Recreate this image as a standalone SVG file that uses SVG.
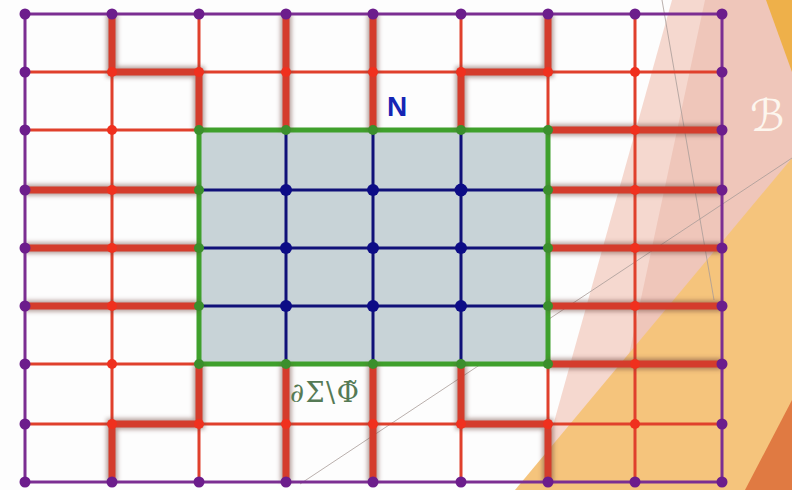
<svg xmlns="http://www.w3.org/2000/svg" width="792" height="490" viewBox="0 0 792 490">
<defs>
<style>
.p{fill:#6c1d8c}.r{fill:#f0301e}.g{fill:#3b8f2c}.b{fill:#0d0c86}
.rl{stroke:#e0402c;stroke-width:3;fill:none}
.bl{stroke:#101078;stroke-width:3;fill:none}
.gl{stroke:#3fa02c;stroke-width:5;fill:none}
.pl{stroke:#7b2e92;stroke-width:3;fill:none}
.tk{stroke:#d43c2c;stroke-width:7;fill:none;stroke-linejoin:miter}
.sh{stroke:#6a4038;stroke-width:11;fill:none;opacity:.5}
.thin{stroke:#a89c98;stroke-width:0.8;fill:none}
</style>
<filter id="blur" x="-10%" y="-10%" width="120%" height="120%"><feGaussianBlur stdDeviation="2"/></filter>
</defs>
<rect width="792" height="490" fill="#fdfdfd"/>
<g id="background">
<polygon points="672,0 792,0 792,490 535,490" fill="#f5d8cf"/>
<polygon points="705,0 792,0 792,490 600,490" fill="#efc6ba"/>
<polygon points="766,0 792,0 792,72" fill="#eeb04a"/>
<polygon points="792,158 792,490 515,490" fill="#f5c47c"/>
<polygon points="792,400 792,490 745,490" fill="#e07a42"/>
<line class="thin" x1="662" y1="0" x2="714" y2="300"/>
<line class="thin" x1="300" y1="484" x2="792" y2="158"/>
</g>
<g id="connectors">
<path class="rl" d="M25 72H722M25 130H722M25 190H722M25 248H722M25 306H722M25 364H722M25 424H722M112 14V482M199 14V482M286 14V482M373 14V482M461 14V482M548 14V482M635 14V482"/>
<rect x="199" y="130" width="349" height="234" fill="#c8d3d7"/>
<path class="bl" d="M199 190H548M199 248H548M199 306H548M286 130V364M373 130V364M461 130V364"/>
<rect class="gl" x="199" y="130" width="349" height="234"/>
<path class="sh" filter="url(#blur)" d="M112 14V72H199V130M286 14V130M373 14V130M461 130V72H548V14M548 130H722M548 190H722M548 248H722M548 306H722M548 364H722M25 190H199M25 248H199M25 306H199M199 364V424H112V482M286 364V482M373 364V482M461 364V424H548V482"/>
<path class="tk" d="M112 14V72H199V130M286 14V130M373 14V130M461 130V72H548V14M548 130H722M548 190H722M548 248H722M548 306H722M548 364H722M25 190H199M25 248H199M25 306H199M199 364V424H112V482M286 364V482M373 364V482M461 364V424H548V482"/>
<rect class="pl" x="25" y="14" width="697" height="468"/>
</g>
<g id="nodes">
<g id="n0_0"><circle class="p" cx="25" cy="14" r="5.5"/></g>
<g id="n0_1"><circle class="p" cx="112" cy="14" r="5.5"/></g>
<g id="n0_2"><circle class="p" cx="199" cy="14" r="5.5"/></g>
<g id="n0_3"><circle class="p" cx="286" cy="14" r="5.5"/></g>
<g id="n0_4"><circle class="p" cx="373" cy="14" r="5.5"/></g>
<g id="n0_5"><circle class="p" cx="461" cy="14" r="5.5"/></g>
<g id="n0_6"><circle class="p" cx="548" cy="14" r="5.5"/></g>
<g id="n0_7"><circle class="p" cx="635" cy="14" r="5.5"/></g>
<g id="n0_8"><circle class="p" cx="722" cy="14" r="5.5"/></g>
<g id="n1_0"><circle class="p" cx="25" cy="72" r="5.5"/></g>
<g id="n1_1"><circle class="r" cx="112" cy="72" r="5"/></g>
<g id="n1_2"><circle class="r" cx="199" cy="72" r="5"/></g>
<g id="n1_3"><circle class="r" cx="286" cy="72" r="5"/></g>
<g id="n1_4"><circle class="r" cx="373" cy="72" r="5"/></g>
<g id="n1_5"><circle class="r" cx="461" cy="72" r="5"/></g>
<g id="n1_6"><circle class="r" cx="548" cy="72" r="5"/></g>
<g id="n1_7"><circle class="r" cx="635" cy="72" r="5"/></g>
<g id="n1_8"><circle class="p" cx="722" cy="72" r="5.5"/></g>
<g id="n2_0"><circle class="p" cx="25" cy="130" r="5.5"/></g>
<g id="n2_1"><circle class="r" cx="112" cy="130" r="5"/></g>
<g id="n2_2"><circle class="g" cx="199" cy="130" r="5"/></g>
<g id="n2_3"><circle class="g" cx="286" cy="130" r="5"/></g>
<g id="n2_4"><circle class="g" cx="373" cy="130" r="5"/></g>
<g id="n2_5"><circle class="g" cx="461" cy="130" r="5"/></g>
<g id="n2_6"><circle class="g" cx="548" cy="130" r="5"/></g>
<g id="n2_7"><circle class="r" cx="635" cy="130" r="5"/></g>
<g id="n2_8"><circle class="p" cx="722" cy="130" r="5.5"/></g>
<g id="n3_0"><circle class="p" cx="25" cy="190" r="5.5"/></g>
<g id="n3_1"><circle class="r" cx="112" cy="190" r="5"/></g>
<g id="n3_2"><circle class="g" cx="199" cy="190" r="5"/></g>
<g id="n3_3"><circle class="b" cx="286" cy="190" r="6"/></g>
<g id="n3_4"><circle class="b" cx="373" cy="190" r="6"/></g>
<g id="n3_5"><circle class="b" cx="461" cy="190" r="6.5"/></g>
<g id="n3_6"><circle class="g" cx="548" cy="190" r="5"/></g>
<g id="n3_7"><circle class="r" cx="635" cy="190" r="5"/></g>
<g id="n3_8"><circle class="p" cx="722" cy="190" r="5.5"/></g>
<g id="n4_0"><circle class="p" cx="25" cy="248" r="5.5"/></g>
<g id="n4_1"><circle class="r" cx="112" cy="248" r="5"/></g>
<g id="n4_2"><circle class="g" cx="199" cy="248" r="5"/></g>
<g id="n4_3"><circle class="b" cx="286" cy="248" r="6"/></g>
<g id="n4_4"><circle class="b" cx="373" cy="248" r="6"/></g>
<g id="n4_5"><circle class="b" cx="461" cy="248" r="6"/></g>
<g id="n4_6"><circle class="g" cx="548" cy="248" r="5"/></g>
<g id="n4_7"><circle class="r" cx="635" cy="248" r="5"/></g>
<g id="n4_8"><circle class="p" cx="722" cy="248" r="5.5"/></g>
<g id="n5_0"><circle class="p" cx="25" cy="306" r="5.5"/></g>
<g id="n5_1"><circle class="r" cx="112" cy="306" r="5"/></g>
<g id="n5_2"><circle class="g" cx="199" cy="306" r="5"/></g>
<g id="n5_3"><circle class="b" cx="286" cy="306" r="6"/></g>
<g id="n5_4"><circle class="b" cx="373" cy="306" r="6"/></g>
<g id="n5_5"><circle class="b" cx="461" cy="306" r="6"/></g>
<g id="n5_6"><circle class="g" cx="548" cy="306" r="5"/></g>
<g id="n5_7"><circle class="r" cx="635" cy="306" r="5"/></g>
<g id="n5_8"><circle class="p" cx="722" cy="306" r="5.5"/></g>
<g id="n6_0"><circle class="p" cx="25" cy="364" r="5.5"/></g>
<g id="n6_1"><circle class="r" cx="112" cy="364" r="5"/></g>
<g id="n6_2"><circle class="g" cx="199" cy="364" r="5"/></g>
<g id="n6_3"><circle class="g" cx="286" cy="364" r="5"/></g>
<g id="n6_4"><circle class="g" cx="373" cy="364" r="5"/></g>
<g id="n6_5"><circle class="g" cx="461" cy="364" r="5"/></g>
<g id="n6_6"><circle class="g" cx="548" cy="364" r="5"/></g>
<g id="n6_7"><circle class="r" cx="635" cy="364" r="5"/></g>
<g id="n6_8"><circle class="p" cx="722" cy="364" r="5.5"/></g>
<g id="n7_0"><circle class="p" cx="25" cy="424" r="5.5"/></g>
<g id="n7_1"><circle class="r" cx="112" cy="424" r="5"/></g>
<g id="n7_2"><circle class="r" cx="199" cy="424" r="5"/></g>
<g id="n7_3"><circle class="r" cx="286" cy="424" r="5"/></g>
<g id="n7_4"><circle class="r" cx="373" cy="424" r="5"/></g>
<g id="n7_5"><circle class="r" cx="461" cy="424" r="5"/></g>
<g id="n7_6"><circle class="r" cx="548" cy="424" r="5"/></g>
<g id="n7_7"><circle class="r" cx="635" cy="424" r="5"/></g>
<g id="n7_8"><circle class="p" cx="722" cy="424" r="5.5"/></g>
<g id="n8_0"><circle class="p" cx="25" cy="482" r="5.5"/></g>
<g id="n8_1"><circle class="p" cx="112" cy="482" r="5.5"/></g>
<g id="n8_2"><circle class="p" cx="199" cy="482" r="5.5"/></g>
<g id="n8_3"><circle class="p" cx="286" cy="482" r="5.5"/></g>
<g id="n8_4"><circle class="p" cx="373" cy="482" r="5.5"/></g>
<g id="n8_5"><circle class="p" cx="461" cy="482" r="5.5"/></g>
<g id="n8_6"><circle class="p" cx="548" cy="482" r="5.5"/></g>
<g id="n8_7"><circle class="p" cx="635" cy="482" r="5.5"/></g>
<g id="n8_8"><circle class="p" cx="722" cy="482" r="5.5"/></g>
</g>
<g id="labels">
<text x="387" y="116" font-family="Liberation Sans, Arial, sans-serif" font-weight="bold" font-size="28" fill="#1525b5">N</text>
<text x="290" y="402" font-family="DejaVu Serif, serif" font-size="27" letter-spacing="1.5" fill="#557a55">∂Σ\Φ̃</text>
<text x="750" y="131" font-family="DejaVu Serif, DejaVu Sans, serif" font-size="44" fill="#fdf6ee">ℬ</text>
</g>
</svg>
